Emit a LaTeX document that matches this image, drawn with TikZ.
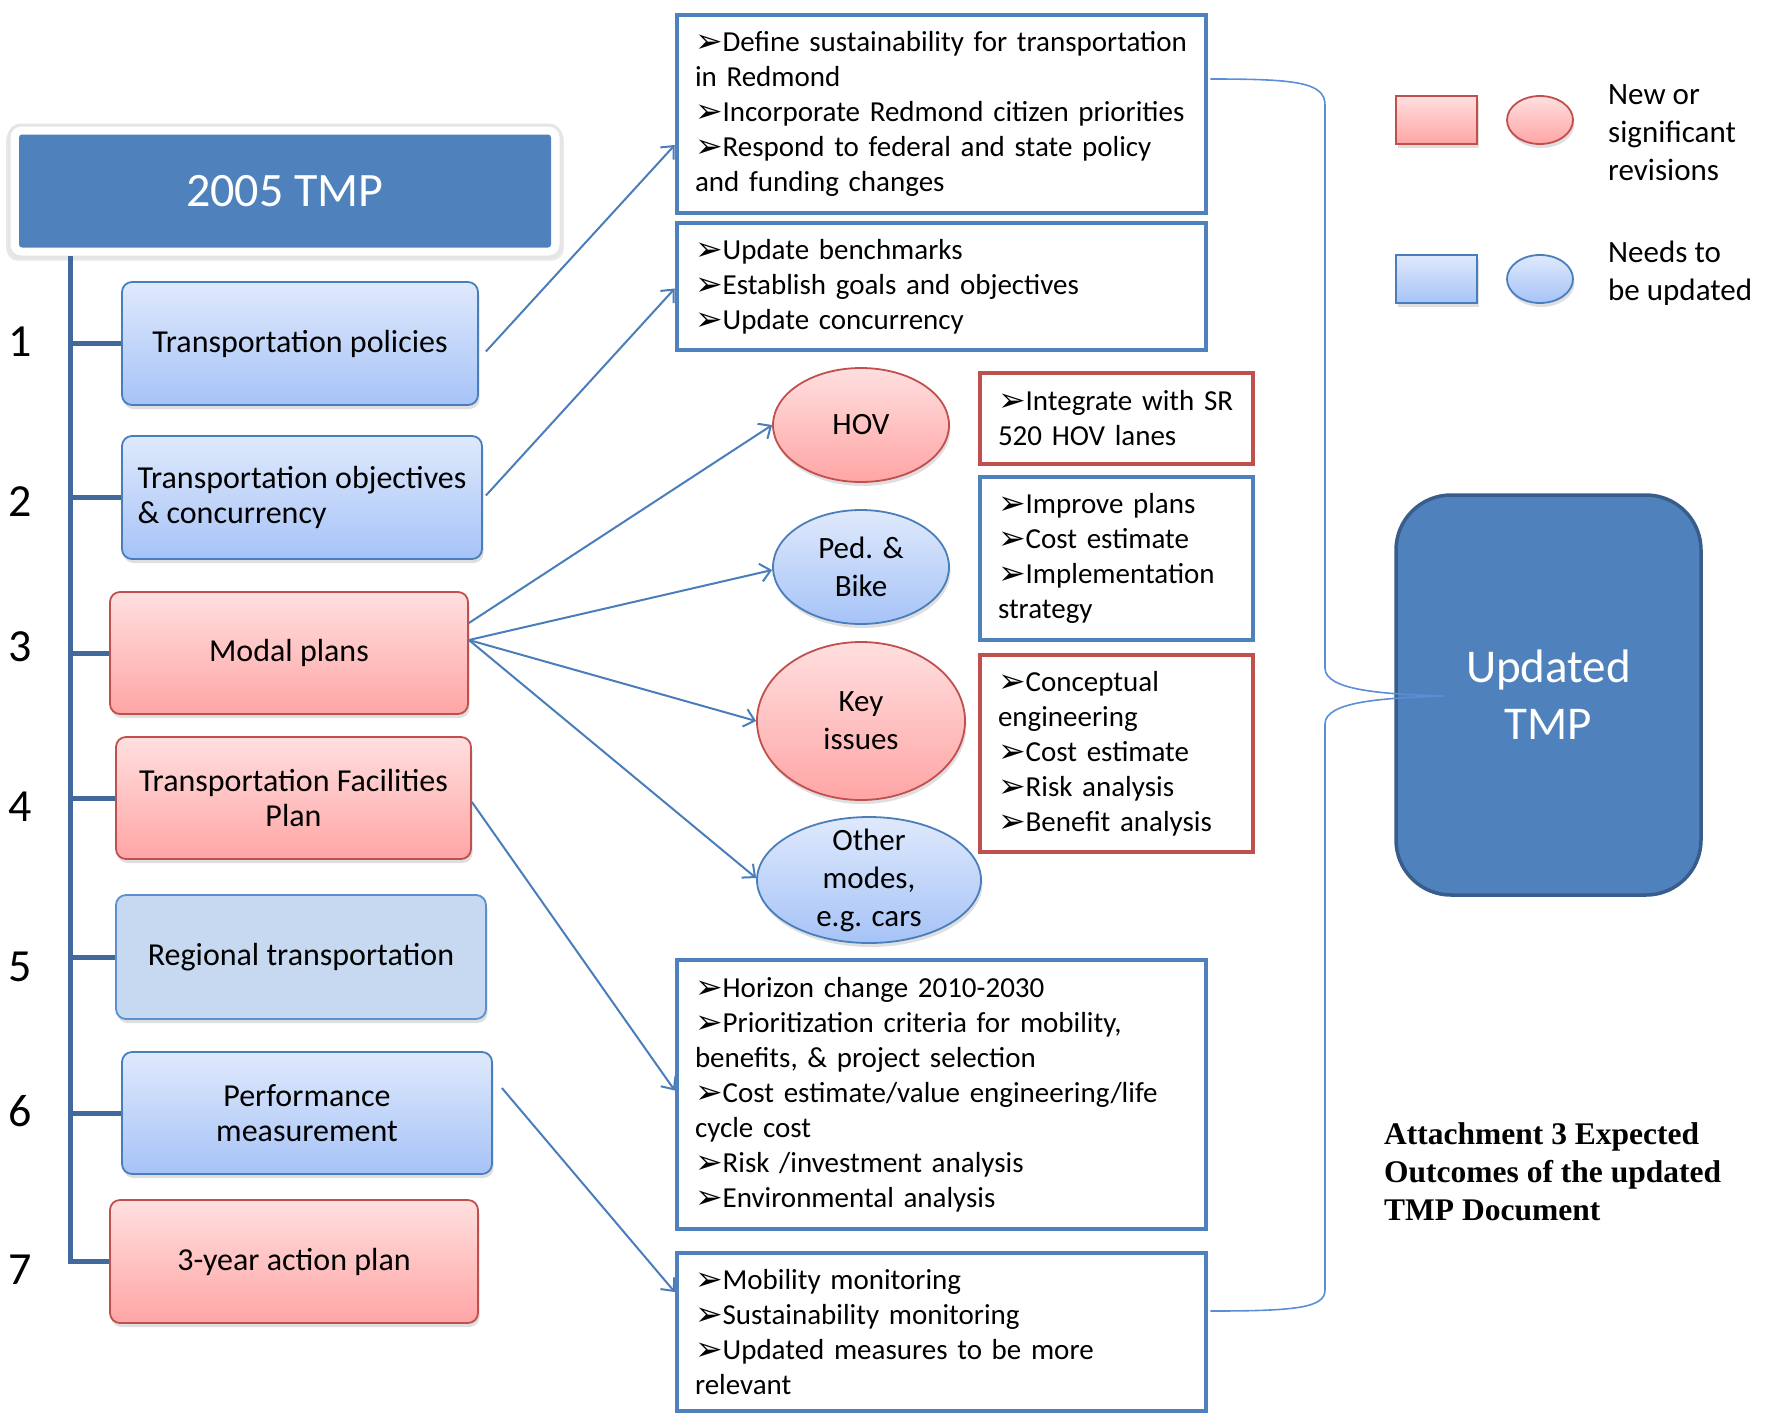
\documentclass[tikz,border=0pt]{standalone}
\usepackage{fontspec}
\setmainfont{Carlito}
\newfontfamily\symf{DejaVu Sans}
\newfontfamily\serifb{Liberation Serif}
\usetikzlibrary{shapes.geometric,shadows,arrows.meta,calc}
\definecolor{tmpblue}{HTML}{4F81BD}
\definecolor{tmpdark}{HTML}{385D8A}
\definecolor{trunk}{HTML}{41699D}
\definecolor{bbord}{HTML}{4A7EBB}
\definecolor{btop}{HTML}{DFE9FC}
\definecolor{bbot}{HTML}{A6C3F7}
\definecolor{rbord}{HTML}{C0504D}
\definecolor{ptop}{HTML}{FFDFDF}
\definecolor{pbot}{HTML}{FFA5A5}
\definecolor{flatblue}{HTML}{C6D9F1}
\definecolor{flatbord}{HTML}{5B8FD0}
\definecolor{arrowc}{HTML}{4A7EBB}
\definecolor{bracec}{HTML}{5A8FD6}
\newcommand\bl{{\symf\fontsize{33}{33}\selectfont\raisebox{-1pt}{➢}}}
\begin{document}
\begin{tikzpicture}[x=1pt,y=-1pt,
  shad/.style={drop shadow={shadow xshift=1.5pt,shadow yshift=-4pt,opacity=0.25}},
  lbox/.style={rectangle,rounded corners=10pt,line width=1.8pt,align=center,inner sep=0pt,
    font=\fontsize{32}{35.5}\selectfont,shad},
  bluegrad/.style={draw=bbord,top color=btop,bottom color=bbot},
  pinkgrad/.style={draw=rbord,top color=ptop,bottom color=pbot},
  mbox/.style={rectangle,line width=4.5pt,fill=white,inner xsep=18pt,inner ysep=0pt,align=left,
    font=\fontsize{29}{35}\selectfont},
  mblue/.style={mbox,draw=tmpblue},
  mred/.style={mbox,draw=rbord},
  ell/.style={ellipse,line width=1.8pt,inner sep=0pt,shad},
  etext/.style={font=\fontsize{31}{38}\selectfont,align=center,inner sep=0pt},
  num/.style={font=\fontsize{46}{46}\selectfont,inner sep=0pt},
  conn/.style={draw=arrowc,line width=2pt,-{Straight Barb[length=10pt,width=18pt,line width=2pt]}},
  tick/.style={draw=trunk,line width=5pt}
]
\useasboundingbox (0,0) rectangle (1777,1414);

% 2005 TMP
\node[rectangle,rounded corners=12pt,fill=white,draw=black!10,line width=3pt,
  minimum width=552pt,minimum height=132pt,inner sep=0pt,
  drop shadow={shadow xshift=0pt,shadow yshift=-3pt,opacity=0.18,shadow scale=1.01}] (tmpframe) at (285,191) {};
\node[rectangle,rounded corners=3pt,fill=tmpblue,
  minimum width=532pt,minimum height=113pt,inner sep=0pt,text=white,
  font=\fontsize{48}{48}\selectfont] (tmp) at (tmpframe) {2005 TMP};

% left boxes
\node[lbox,bluegrad,minimum width=356pt,minimum height=123pt] (b1) at (300,343.5) {Transportation policies};
\node[lbox,bluegrad,minimum width=360pt,minimum height=123pt,align=left] (b2) at (302,497.5) {Transportation objectives\\\& concurrency};
\node[lbox,pinkgrad,minimum width=358pt,minimum height=122pt] (b3) at (289,653) {Modal plans};
\node[lbox,pinkgrad,minimum width=355pt,minimum height=122pt] (b4) at (293.5,798) {Transportation Facilities\\Plan};
\node[lbox,draw=flatbord,fill=flatblue,minimum width=370pt,minimum height=124pt] (b5) at (301,957) {Regional transportation};
\node[lbox,bluegrad,minimum width=370pt,minimum height=122pt] (b6) at (307,1113) {Performance\\measurement};
\node[lbox,pinkgrad,minimum width=368pt,minimum height=123pt] (b7) at (294,1261.5) {3-year action plan};

% trunk
\coordinate (trtop) at (70,258);
\coordinate (trbot) at (70,1261.5);
\draw[tick,line cap=rect] (trtop) -- (trbot);
\foreach \b in {b1,b2,b3,b4,b5,b6,b7}
  \draw[tick] (trtop |- \b.west) -- (\b.west);

% numbers
\node[num] (n1) at (20,342) {1};
\node[num] (n2) at (20,502) {2};
\node[num] (n3) at (20,647) {3};
\node[num] (n4) at (20,807) {4};
\node[num] (n5) at (20,967) {5};
\node[num] (n6) at (20,1111) {6};
\node[num] (n7) at (20,1270) {7};

% middle boxes
\node[mblue,text width=493pt,minimum height=198pt] (A) at (941.5,114)
  {\bl Define sustainability for transportation\\in Redmond\\\bl Incorporate Redmond citizen priorities\\\bl Respond to federal and state policy\\and funding changes};
\node[mblue,text width=493pt,minimum height=127pt] (B) at (941.5,286.5)
  {\bl Update benchmarks\\\bl Establish goals and objectives\\\bl Update concurrency};
\node[mblue,text width=493pt,minimum height=269pt] (F) at (941.5,1094.5)
  {\bl Horizon change 2010-2030\\\bl Prioritization criteria for mobility,\\benefits, \& project selection\\\bl Cost estimate/value engineering/life\\cycle cost\\\bl Risk /investment analysis\\\bl Environmental analysis};
\node[mblue,text width=493pt,minimum height=158pt] (G) at (941.5,1332)
  {\bl Mobility monitoring\\\bl Sustainability monitoring\\\bl Updated measures to be more\\relevant};

% right boxes
\node[mred,text width=237pt,minimum height=91pt] (C) at (1116.5,418.5)
  {\bl Integrate with SR\\520 HOV lanes};
\node[mblue,text width=237pt,minimum height=163pt] (D) at (1116.5,558.5)
  {\bl Improve plans\\\bl Cost estimate\\\bl Implementation\\strategy};
\node[mred,text width=237pt,minimum height=197pt] (E) at (1116.5,753.5)
  {\bl Conceptual\\engineering\\\bl Cost estimate\\\bl Risk analysis\\\bl Benefit analysis};

% ellipses
\node[ell,pinkgrad,minimum width=176pt,minimum height=114pt] (hov) at (861,425) {};
\node[etext] at (hov) {HOV};
\node[ell,bluegrad,minimum width=176pt,minimum height=114pt] (ped) at (861,567) {};
\node[etext] at (ped) {Ped. \&\\Bike};
\node[ell,pinkgrad,minimum width=208pt,minimum height=158pt] (key) at (861,721) {};
\node[etext] at (key) {Key\\issues};
\node[ell,bluegrad,minimum width=224pt,minimum height=126pt] (oth) at (869,880) {};
\node[etext] at (oth) {Other\\modes,\\e.g. cars};

% legend
\node[rectangle,pinkgrad,line width=1.8pt,minimum width=81pt,minimum height=48pt,inner sep=0pt,shad] (lr1) at (1436.5,120) {};
\node[ell,pinkgrad,minimum width=66pt,minimum height=48pt] (le1) at (1540,120) {};
\node[rectangle,bluegrad,line width=1.8pt,minimum width=81pt,minimum height=48pt,inner sep=0pt,shad] (lr2) at (1436.5,279) {};
\node[ell,bluegrad,minimum width=66pt,minimum height=48pt] (le2) at (1540,279) {};
\node[etext,align=left,anchor=west,font=\fontsize{31}{38}\selectfont] (lt1) at (1608,133) {New or\\significant\\revisions};
\node[etext,align=left,anchor=west,font=\fontsize{31}{38}\selectfont] (lt2) at (1608,273) {Needs to\\be updated};

% Updated TMP
\node[rectangle,rounded corners=55pt,fill=tmpblue,draw=tmpdark,line width=3.5pt,
  minimum width=305pt,minimum height=400pt,inner sep=0pt,text=white,align=center,
  font=\fontsize{47}{57}\selectfont] (up) at (1548.5,695) {Updated\\TMP};

% caption
\node[anchor=west,align=left,inner sep=0pt,font=\serifb\bfseries\fontsize{31.5}{38}\selectfont] (cap) at (1384,1172)
  {Attachment 3 Expected\\Outcomes of the updated\\TMP Document};

% brace
\coordinate (tip) at (1443,696);
\draw[bracec,line width=1.6pt]
  ($(A.east)+(2,-35)$) .. controls (1295,79) and (1325,82) .. (1325,105)
  -- (1325,668) .. controls (1325,690) and (1380,694) .. (tip)
  .. controls (1380,698) and (1325,702) .. (1325,724)
  -- (1325,1290) .. controls (1325,1308) and (1295,1311) .. ($(G.east)+(2,-21)$);

% connectors
\draw[conn] ($(b1.east)+(7,8)$) -- ($(A.west)+(0,31)$);
\draw[conn] ($(b2.east)+(3,-2)$) -- ($(B.west)+(0,2)$);
\draw[conn] ($(b3.east)+(0,-30)$) -- (hov.west);
\draw[conn] ($(b3.east)+(0,-13)$) -- ($(ped.west)+(0,3)$);
\draw[conn] ($(b3.east)+(0,-13)$) -- (key.west);
\draw[conn] ($(b3.east)+(0,-13)$) -- ($(oth.west)+(0,-2)$);
\draw[conn] ($(b4.east)+(0,4)$) -- ($(F.west)+(0,-4)$);
\draw[conn] ($(b6.east)+(9,-25)$) -- ($(G.west)+(0,-40)$);
\end{tikzpicture}
\end{document}
